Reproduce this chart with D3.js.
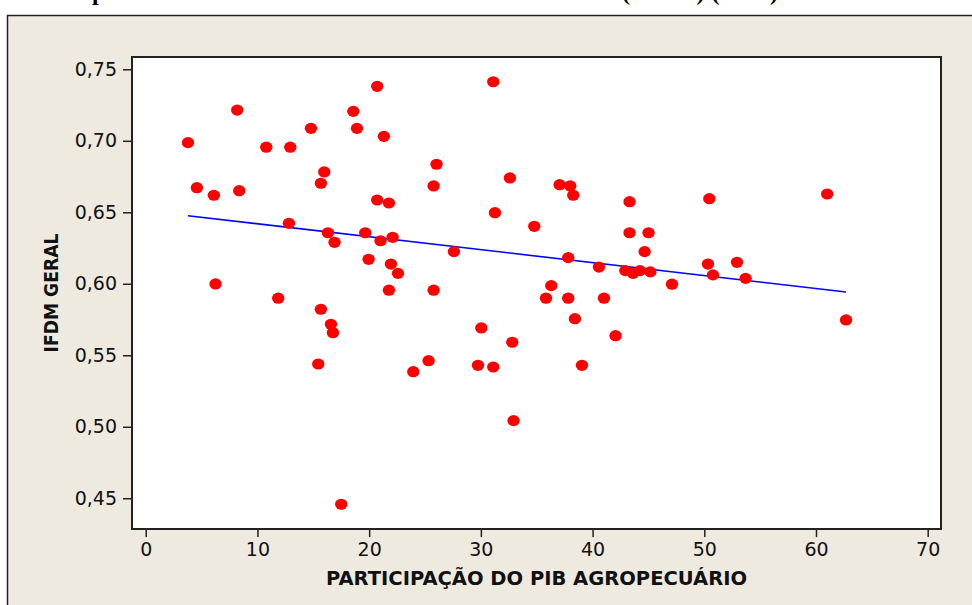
<!DOCTYPE html>
<html>
<head>
<meta charset="utf-8">
<script src="https://cdn.jsdelivr.net/npm/d3@7"></script>
<style>
  html, body { margin: 0; padding: 0; background: #fff; }
  svg { display: block; }
</style>
</head>
<body>
<div id="container"></div>
<script>
// PIB agropecuário share (%) per municipality
const pibAgro = [
  3.78, 4.58, 6.1, 6.25, 8.19, 8.37, 10.79, 11.86, 12.94, 12.82,
  14.79, 15.68, 15.98, 15.68, 15.44, 16.31, 16.9, 16.58, 16.76, 17.5,
  18.58, 18.91, 19.65, 19.95, 20.72, 20.72, 21.02, 21.32, 21.77, 21.95,
  22.1, 21.77, 22.58, 23.95, 25.32, 25.77, 26.03, 25.77, 27.59, 29.74,
  30.04, 31.11, 31.11, 31.26, 32.6, 32.81, 32.93, 34.78, 35.83, 36.3,
  37.05, 37.82, 37.82, 38.0, 38.27, 38.42, 39.05, 40.57, 41.02, 42.06,
  42.93, 43.31, 43.31, 43.62, 44.24, 44.66, 45.01, 45.17, 47.11, 50.33,
  50.45, 50.78, 52.93, 53.7, 61.0, 62.69
];
// IFDM geral
const ifdm = [
  0.6987, 0.6672, 0.6619, 0.5999, 0.7215, 0.6651, 0.6955, 0.5899, 0.6955, 0.6423,
  0.7087, 0.6703, 0.6782, 0.5822, 0.5439, 0.6357, 0.6290, 0.5717, 0.5658, 0.4458,
  0.7206, 0.7087, 0.6357, 0.6171, 0.7381, 0.6586, 0.6301, 0.7031, 0.6565, 0.6138,
  0.6325, 0.5955, 0.6073, 0.5385, 0.5462, 0.6684, 0.6836, 0.5955, 0.6225, 0.5430,
  0.5691, 0.7413, 0.5418, 0.6497, 0.6740, 0.5591, 0.5043, 0.6402, 0.5899, 0.5987,
  0.6693, 0.6183, 0.5899, 0.6684, 0.6619, 0.5756, 0.5430, 0.6117, 0.5899, 0.5637,
  0.6092, 0.6574, 0.6357, 0.6073, 0.6092, 0.6225, 0.6357, 0.6083, 0.5997, 0.6138,
  0.6595, 0.6062, 0.6150, 0.6038, 0.6628, 0.5747
];
const xTicks = [0, 10, 20, 30, 40, 50, 60, 70];
const yTicks = [0.45, 0.50, 0.55, 0.60, 0.65, 0.70, 0.75];
// fitted line IFDM = a + b * PIB
const fitIntercept = 0.6510;
const fitSlope = -0.000905;

const W = 972, H = 605;
const plot = {left: 132, top: 57, right: 941, bottom: 529};

const svg = d3.select("#container")
  .append("svg")
  .attr("width", W)
  .attr("height", H);

// caption of the page, cut off at the top (only descenders show)
svg.append("text")
  .attr("x", 92).attr("y", -0.5)
  .style("font-family", "'Liberation Serif', serif")
  .style("font-weight", "bold")
  .style("font-size", "24px")
  .text("p");
svg.append("text")
  .attr("x", 622).attr("y", -0.5)
  .attr("textLength", 156)
  .attr("lengthAdjust", "spacing")
  .style("font-family", "'Liberation Serif', serif")
  .style("font-weight", "bold")
  .style("font-size", "24px")
  .text("(IFDM) (2010)");

// outer frame
svg.append("rect")
  .attr("x", 7.5).attr("y", 15.5)
  .attr("width", W + 10).attr("height", H + 10)
  .attr("fill", "#eeeae0")
  .attr("stroke", "#222")
  .attr("stroke-width", 1.5);

const x = d3.scaleLinear()
  .domain([-1.23, 71.19])
  .range([plot.left, plot.right]);

const y = d3.scaleLinear()
  .domain([0.4285, 0.7586])
  .range([plot.bottom, plot.top]);

svg.append("rect")
  .attr("x", plot.left).attr("y", plot.top)
  .attr("width", plot.right - plot.left)
  .attr("height", plot.bottom - plot.top)
  .attr("fill", "#fff")
  .attr("stroke", "#222")
  .attr("stroke-width", 2);

const tickFont = "'DejaVu Sans', Verdana, sans-serif";

const xAxis = svg.append("g")
  .attr("transform", `translate(0,${plot.bottom + 1})`)
  .call(d3.axisBottom(x).tickValues(xTicks).tickSize(7).tickPadding(6)
    .tickFormat(d3.format("d")));
xAxis.select(".domain").remove();

const yAxis = svg.append("g")
  .attr("transform", `translate(${plot.left - 1},0)`)
  .call(d3.axisLeft(y).tickValues(yTicks).tickSize(8).tickPadding(6)
    .tickFormat(d => d.toFixed(2).replace(".", ",")));
yAxis.select(".domain").remove();

svg.selectAll(".tick line").attr("stroke", "#222").attr("stroke-width", 1.5);
svg.selectAll(".tick text")
  .attr("fill", "#111")
  .style("font-family", tickFont)
  .style("font-size", "19px");

// regression line
const xMin = d3.min(pibAgro), xMax = d3.max(pibAgro);
const fit = [xMin, xMax].map(v => ({px: v, py: fitIntercept + fitSlope * v}));
svg.append("path")
  .datum(fit)
  .attr("fill", "none")
  .attr("stroke", "#0000ff")
  .attr("stroke-width", 1.6)
  .attr("d", d3.line().x(d => x(d.px)).y(d => y(d.py)));

// points
svg.append("g")
  .selectAll("ellipse")
  .data(pibAgro.map((v, i) => ({px: v, py: ifdm[i]})))
  .join("ellipse")
  .attr("cx", d => x(d.px))
  .attr("cy", d => y(d.py))
  .attr("rx", 6.2)
  .attr("ry", 5.6)
  .attr("fill", "#ff0000");

// axis titles
svg.append("text")
  .attr("x", (plot.left + plot.right) / 2)
  .attr("y", 585)
  .attr("text-anchor", "middle")
  .attr("textLength", 421)
  .attr("lengthAdjust", "spacingAndGlyphs")
  .style("font-family", tickFont)
  .style("font-weight", "bold")
  .style("font-size", "19px")
  .attr("fill", "#111")
  .text("PARTICIPAÇÃO DO PIB AGROPECUÁRIO");

svg.append("text")
  .attr("transform", `translate(58,${(plot.top + plot.bottom) / 2}) rotate(-90)`)
  .attr("text-anchor", "middle")
  .attr("textLength", 119)
  .attr("lengthAdjust", "spacingAndGlyphs")
  .style("font-family", tickFont)
  .style("font-weight", "bold")
  .style("font-size", "19px")
  .attr("fill", "#111")
  .text("IFDM GERAL");
</script>
</body>
</html>
